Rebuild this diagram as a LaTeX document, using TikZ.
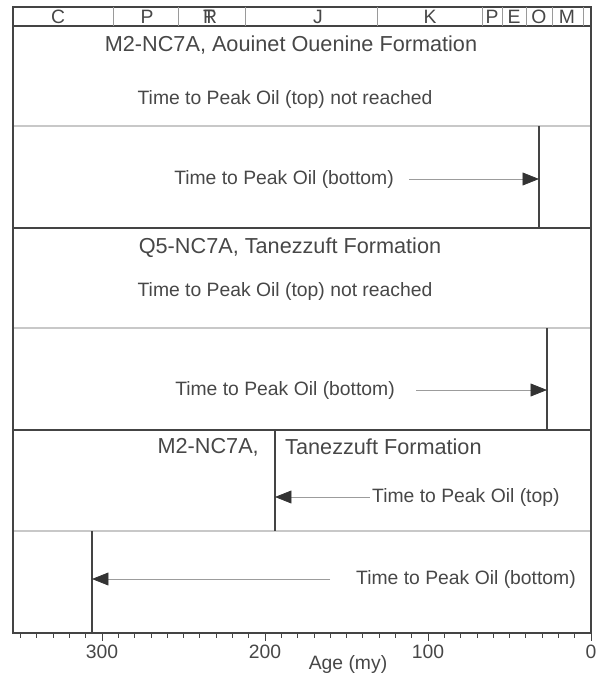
\documentclass[tikz,border=0pt]{standalone}
\usepackage{fontspec}
\setmainfont{Liberation Sans}
\usepackage{xcolor}
\usepackage{tikz}
\usetikzlibrary{arrows.meta}

\definecolor{ink}{HTML}{474747}
\definecolor{frame}{HTML}{444444}
\definecolor{rule}{HTML}{C8C8C8}
\definecolor{sep}{HTML}{9A9A9A}
\definecolor{shaft}{HTML}{9C9C9C}

\begin{document}
\begin{tikzpicture}[x=0.03cm,y=-0.03cm,
  txt/.style={text=ink,font=\fontsize{16.5}{19}\selectfont,inner sep=0pt},
  head/.style={text=ink,font=\fontsize{18.5}{22}\selectfont,inner sep=0pt},
  era/.style={text=ink,font=\fontsize{16.5}{19}\selectfont,inner sep=0pt},
  peak/.style={shaft,line width=0.6pt,-{Triangle[length=14pt,width=11pt,color=black!80]}},
  wall/.style={frame,line width=1.3pt}]
  \def \OX {591}
  \def \LX {13}
  \def \S {1.63}
  \def \TY {7}
  \def \HY {26}
  \def \BY {633}
  \useasboundingbox (0,0) rectangle (610,682);

  % time scale on top
  \draw[frame,line width=1pt] (\LX,\TY) rectangle (\OX,\HY);
  \foreach \b in {113,178,245,377,482,502,526,552,583}
    \draw[sep,line width=0.8pt] (\b,\TY) -- (\b,\HY);
  \foreach \p/\l in {58/C,147/P,210/{\makebox[0pt][l]{T}R},318/J,430/K,492/P,514/E,539/O,567/M}
    \node[era] at (\p,16.5) {\l};

  % panels
  \draw[rule,line width=1pt] (\LX,126) -- (\OX,126);
  \draw[rule,line width=1pt] (\LX,328) -- (\OX,328);
  \draw[rule,line width=1pt] (\LX,531) -- (\OX,531);
  \draw[wall] (\LX,228) -- (\OX,228);
  \draw[wall] (\LX,430) -- (\OX,430);
  \draw[wall] (\LX,\HY) -- (\LX,\BY) -- (\OX,\BY) -- (\OX,\HY);

  % peak oil lines
  \draw[wall] (539,126) -- (539,228);
  \draw[wall] (547,328) -- (547,430);
  \draw[wall] (275,430) -- (275,531);
  \draw[wall] (92,531) -- (92,\BY);
  \coordinate (p1) at (539,179);
  \coordinate (p2) at (547,390);
  \coordinate (p3) at (275,497);
  \coordinate (p4) at (92,579);

  \node[head] (fm1) at (291,45) {M2-NC7A, Aouinet Ouenine Formation};
  \node[txt] (top1) at (285,100) {Time to Peak Oil (top) not reached};
  \node[txt] (bot1) at (284,179) {Time to Peak Oil (bottom)};
  \draw[peak,shorten <=13pt] (bot1.east) -- (p1);

  \node[head] (fm2) at (290,248) {Q5-NC7A, Tanezzuft Formation};
  \node[txt] (top2) at (285,292) {Time to Peak Oil (top) not reached};
  \node[txt] (bot2) at (285,390) {Time to Peak Oil (bottom)};
  \draw[peak,shorten <=18pt] (bot2.east) -- (p2);

  \node[head,anchor=east] (well3) at (259,447) {M2-NC7A,};
  \node[head,anchor=west] (fm3) at (285,447) {Tanezzuft Formation};
  \node[txt,anchor=west] (top3) at (372,497) {Time to Peak Oil (top)};
  \draw[peak,shorten <=2pt] (top3.west) -- (p3);

  \node[txt,anchor=west] (bot4) at (356,579) {Time to Peak Oil (bottom)};
  \draw[peak,shorten <=22pt] (bot4.west) -- (p4);

  % age axis
  \foreach \a in {0,10,...,350}
    \draw[frame,line width=0.6pt] ({\OX-\S*\a},\BY) -- ++(0,5);
  \foreach \a in {0,100,...,300}
    \draw[frame,line width=0.6pt] ({\OX-\S*\a},\BY) -- ++(0,8);
  \foreach \a in {0,100,200,300}
    \node[txt] at ({\OX-\S*\a},652) {\a};
  \node[txt] (age) at (348,664) {Age (my)};

\end{tikzpicture}
\end{document}
